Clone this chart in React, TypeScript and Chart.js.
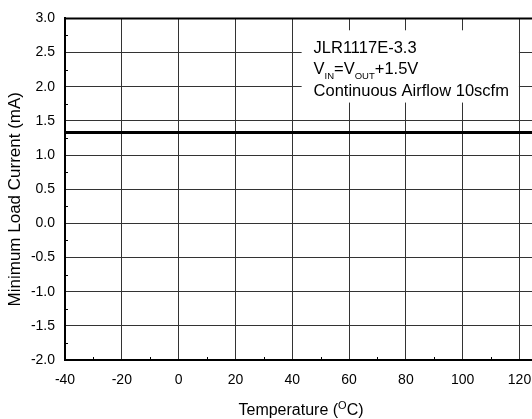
import React, { useEffect, useRef } from "react";
import { Chart, registerables } from "chart.js";

Chart.register(...registerables);

// ---- Data ----
const temperatures = [-40, -20, 0, 20, 40, 60, 80, 100, 120, 140];
const minLoadCurrent = [1.33, 1.33, 1.33, 1.33, 1.33, 1.33, 1.33, 1.33, 1.33, 1.33];
const xMinorTicks = [-30, -10, 10, 30, 50, 70, 90, 110, 130];
const yMinorTicks = [-1.75, -1.25, -0.75, -0.25, 0.25, 0.75, 1.25, 1.75, 2.25, 2.75];
const xRange = [-40, 140];
const yRange = [-2.0, 3.0];
const yTitle = "Minimum Load Current (mA)";
const xTitleParts = ["Temperature (", "O", "C)"];
const annotationTitle = "JLR1117E-3.3";
const annotationCondition = [
  { t: "V", sub: false },
  { t: "IN", sub: true },
  { t: "=V", sub: false },
  { t: "OUT", sub: true },
  { t: "+1.5V", sub: false },
];
const annotationAirflow = "Continuous Airflow 10scfm";
// annotation box and text anchors, in data units
const annotationBox = { x0: 43.3, x1: 119.8, y0: 2.826, y1: 1.768 };
const annotationTextX = 47.5;
const annotationLineY = [2.565, 2.246, 1.928];

const FONT = '"Liberation Sans", Arial, Helvetica, sans-serif';

const decorPlugin = {
  id: "decor",
  beforeDatasetsDraw(chart: any) {
    const { ctx, scales } = chart;
    const xs = scales.x;
    const ys = scales.y;
    // annotation box
    const bx0 = xs.getPixelForValue(annotationBox.x0);
    const bx1 = xs.getPixelForValue(annotationBox.x1);
    const by0 = ys.getPixelForValue(annotationBox.y0);
    const by1 = ys.getPixelForValue(annotationBox.y1);
    ctx.save();
    ctx.fillStyle = "#fff";
    ctx.fillRect(bx0, by0, bx1 - bx0, by1 - by0);
    ctx.fillStyle = "#000";
    ctx.textBaseline = "middle";
    ctx.textAlign = "left";
    const tx = xs.getPixelForValue(annotationTextX);
    ctx.font = `16.5px ${FONT}`;
    ctx.fillText(annotationTitle, tx, ys.getPixelForValue(annotationLineY[0]));
    let cx = tx;
    const ly = ys.getPixelForValue(annotationLineY[1]);
    for (const seg of annotationCondition) {
      if (seg.sub) {
        ctx.font = `9.5px ${FONT}`;
        ctx.fillText(seg.t, cx, ly + 6);
      } else {
        ctx.font = `16.5px ${FONT}`;
        ctx.fillText(seg.t, cx, ly);
      }
      cx += ctx.measureText(seg.t).width;
    }
    ctx.font = `16.5px ${FONT}`;
    ctx.fillText(annotationAirflow, tx, ys.getPixelForValue(annotationLineY[2]));
    ctx.restore();
  },
  afterDatasetsDraw(chart: any) {
    const { ctx, chartArea, scales } = chart;
    const xs = scales.x;
    const ys = scales.y;
    ctx.save();
    ctx.strokeStyle = "#000";
    ctx.lineWidth = 1;
    for (const v of xMinorTicks) {
      const px = Math.round(xs.getPixelForValue(v)) + 0.5;
      ctx.beginPath();
      ctx.moveTo(px, chartArea.bottom);
      ctx.lineTo(px, chartArea.bottom - 3);
      ctx.stroke();
    }
    for (const v of yMinorTicks) {
      const py = Math.round(ys.getPixelForValue(v)) + 0.5;
      ctx.beginPath();
      ctx.moveTo(chartArea.left, py);
      ctx.lineTo(chartArea.left + 3, py);
      ctx.stroke();
    }
    // top border
    ctx.lineWidth = 2;
    ctx.beginPath();
    ctx.moveTo(chartArea.left, chartArea.top);
    ctx.lineTo(chartArea.right, chartArea.top);
    ctx.stroke();

    // y title
    ctx.fillStyle = "#000";
    ctx.font = `17px ${FONT}`;
    ctx.textAlign = "center";
    ctx.textBaseline = "middle";
    ctx.save();
    ctx.translate(15, (chartArea.top + chartArea.bottom) / 2 + 10);
    ctx.rotate(-Math.PI / 2);
    ctx.fillText(yTitle, 0, 0);
    ctx.restore();

    // x title with superscript
    ctx.textAlign = "left";
    ctx.textBaseline = "alphabetic";
    const mainFont = `16px ${FONT}`;
    const supFont = `11px ${FONT}`;
    ctx.font = mainFont;
    const w0 = ctx.measureText(xTitleParts[0]).width;
    const w2 = ctx.measureText(xTitleParts[2]).width;
    ctx.font = supFont;
    const w1 = ctx.measureText(xTitleParts[1]).width;
    const total = w0 + w1 + w2;
    let x = 301 - total / 2;
    const base = 415;
    ctx.font = mainFont;
    ctx.fillText(xTitleParts[0], x, base);
    x += w0;
    ctx.font = supFont;
    ctx.fillText(xTitleParts[1], x, base - 6);
    x += w1;
    ctx.font = mainFont;
    ctx.fillText(xTitleParts[2], x, base);
    ctx.restore();
  },
};

export default function App() {
  const ref = useRef<HTMLCanvasElement | null>(null);
  useEffect(() => {
    if (!ref.current) return;
    const chart = new Chart(ref.current, {
      type: "line",
      data: {
        datasets: [
          {
            data: temperatures.map((t, i) => ({ x: t, y: minLoadCurrent[i] })),
            borderColor: "#000",
            borderWidth: 3,
            pointRadius: 0,
            fill: false,
          },
        ],
      },
      options: {
        animation: false,
        responsive: false,
        devicePixelRatio: 1,
        layout: { padding: { left: 0, top: 15, right: 21, bottom: 0 } },
        plugins: {
          legend: { display: false },
          tooltip: { enabled: false },
          title: { display: false },
        },
        scales: {
          x: {
            type: "linear",
            min: xRange[0],
            max: xRange[1],
            afterFit: (s: any) => {
              s.height = 59;
            },
            ticks: {
              stepSize: 20,
              color: "#000",
              font: { family: FONT, size: 14 },
              padding: 12,
              maxRotation: 0,
            },
            grid: { color: "#333", lineWidth: 1, drawTicks: false },
            border: { display: true, color: "#000", width: 2 },
          },
          y: {
            type: "linear",
            min: yRange[0],
            max: yRange[1],
            afterFit: (s: any) => {
              s.width = 65;
            },
            ticks: {
              stepSize: 0.5,
              color: "#000",
              font: { family: FONT, size: 14 },
              padding: 10,
              callback: (v: any) => Number(v).toFixed(1),
            },
            grid: { color: "#333", lineWidth: 1, drawTicks: false },
            border: { display: true, color: "#000", width: 2 },
          },
        },
      },
      plugins: [decorPlugin],
    });
    return () => chart.destroy();
  }, []);
  return (
    <div
      style={{
        position: "fixed",
        left: 0,
        top: 0,
        width: 532,
        height: 419,
        overflow: "hidden",
        background: "#fff",
      }}
    >
      <canvas ref={ref} width={600} height={419} style={{ display: "block" }} />
    </div>
  );
}
